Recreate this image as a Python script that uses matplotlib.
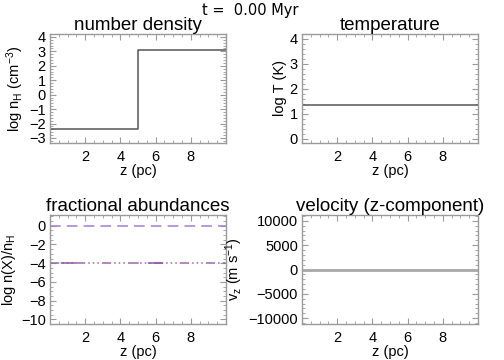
import matplotlib
matplotlib.use("Agg")
import matplotlib.pyplot as plt
from matplotlib.ticker import AutoMinorLocator, FixedLocator

plt.rcParams['font.family'] = ['Liberation Sans', 'DejaVu Sans']
plt.rcParams['mathtext.fontset'] = 'custom'
plt.rcParams['mathtext.rm'] = 'Liberation Sans'
plt.rcParams['mathtext.it'] = 'Liberation Sans'

# ---- data ----
z_density = [0.0, 5.0, 5.0, 10.0]
log_nH = [-2.4, -2.4, 3.1, 3.1]

z_temp = [0.0, 10.0]
log_T = [1.37, 1.37]

z_abund = [0.0, 10.0]
abund_H = [0.0, 0.0]
abund_X1 = [-4.0, -4.0]
abund_X2 = [-4.0, -4.0]

z_vel = [0.0, 10.0]
v_z = [0.0, 0.0]

x_ticks = [2, 4, 6, 8]
time_label = "t =  0.00 Myr"

fig = plt.figure(figsize=(5.04, 3.6), dpi=100)
fig.patch.set_facecolor('white')

W = 176 / 504
H = 109 / 360
positions = {
    'tl': [50 / 504, 1 - 143 / 360, W, H],
    'tr': [302 / 504, 1 - 143 / 360, W, H],
    'bl': [50 / 504, 1 - 324 / 360, W, H],
    'br': [302 / 504, 1 - 324 / 360, W, H],
}

frame_col = '#9a9a9a'


def style(ax, title, ylabel, yticks, yminor):
    ax.set_xlim(0, 10)
    ax.xaxis.set_major_locator(FixedLocator(x_ticks))
    ax.xaxis.set_minor_locator(AutoMinorLocator(4))
    ax.yaxis.set_major_locator(FixedLocator(yticks))
    ax.yaxis.set_minor_locator(AutoMinorLocator(yminor))
    ax.tick_params(which='both', direction='in', top=True, right=True,
                   color=frame_col, labelsize=10.5, pad=3)
    ax.tick_params(which='major', length=4, width=0.8)
    ax.tick_params(which='minor', length=2, width=0.6)
    ax.tick_params(axis='x', labelsize=10.5, pad=5)
    for s in ax.spines.values():
        s.set_color(frame_col)
        s.set_linewidth(1.0)
    ax.set_title(title, fontsize=13.5, pad=3)
    ax.set_ylabel(ylabel, fontsize=10.5, labelpad=2)
    ax.set_xlabel('z (pc)', fontsize=10.5, labelpad=0)


ax1 = fig.add_axes(positions['tl'])
ax1.plot(z_density, log_nH, color='#555555', lw=1.1)
ax1.set_ylim(-3.35, 4.2)
style(ax1, 'number density', r'log n$_\mathregular{H}$ (cm$^\mathregular{-3}$)',
      [-3, -2, -1, 0, 1, 2, 3, 4], 5)

ax2 = fig.add_axes(positions['tr'])
ax2.plot(z_temp, log_T, color='#555555', lw=1.1)
ax2.set_ylim(-0.17, 4.2)
style(ax2, 'temperature', 'log T (K)', [0, 1, 2, 3, 4], 5)

ax3 = fig.add_axes(positions['bl'])
ax3.plot(z_abund, abund_H, color='#a07fd0', lw=1.1, dashes=(7, 4))
ax3.plot(z_abund, abund_X1, color='#9a6aa8', lw=1.1, dashes=(6, 2, 1, 2, 1, 2, 1, 2))
ax3.plot(z_abund, abund_X2, color='#8e5aa0', lw=1.1, dashes=(1, 6, 10, 40))
ax3.set_ylim(-10.5, 1.15)
style(ax3, 'fractional abundances', r'log n(X)/n$_\mathregular{H}$',
      [-10, -8, -6, -4, -2, 0], 4)

ax4 = fig.add_axes(positions['br'])
ax4.plot(z_vel, v_z, color='#a8a8a8', lw=2.0)
ax4.set_ylim(-11200, 11200)
style(ax4, 'velocity (z-component)', r'v$_\mathregular{z}$ (m s$^\mathregular{-1}$)',
      [-10000, -5000, 0, 5000, 10000], 5)

fig.text(250 / 504, 1 - 10 / 360, time_label, ha='center', va='center',
         fontsize=10.5, family=['DejaVu Sans'])

fig.savefig('out.png', dpi=100, facecolor='white')
